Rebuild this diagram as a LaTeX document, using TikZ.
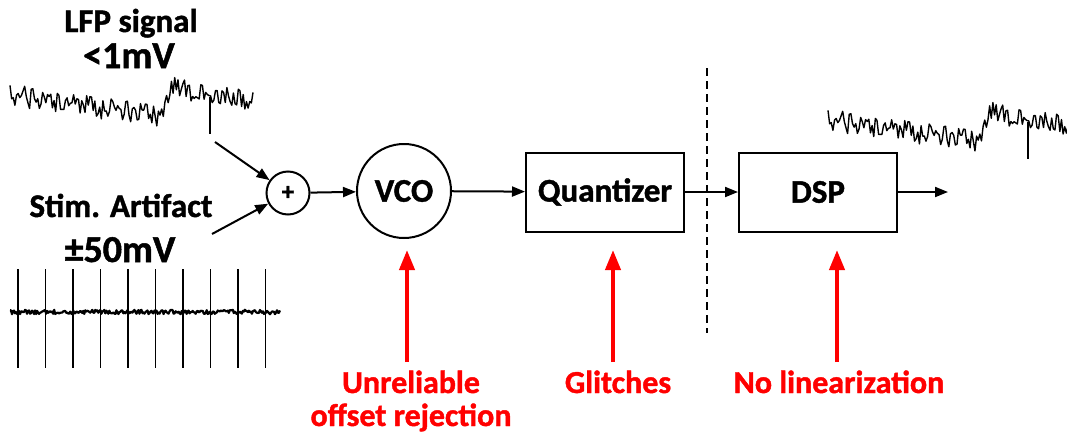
\documentclass[tikz,border=0pt]{standalone}
\usepackage{fontspec}
\setmainfont{Carlito}[BoldFont={Carlito Bold}, BoldFeatures={FakeBold=1.3}]
\usetikzlibrary{arrows.meta}
\definecolor{alarm}{RGB}{255,0,0}
\tikzset{
  px/.style={x=1pt,y=-1pt},
  blk/.style={draw, line width=2pt, minimum width=158pt, minimum height=79pt, inner sep=0pt,
    font=\bfseries\fontsize{33}{40}\selectfont},
  osc/.style={draw, circle, line width=2pt, minimum size=94pt, inner sep=0pt,
    font=\bfseries\fontsize{33}{40}\selectfont},
  adder/.style={draw, circle, line width=2pt, minimum size=43pt, inner sep=0pt,
    font=\bfseries\fontsize{25}{30}\selectfont},
  lbl/.style={inner sep=0pt, font=\bfseries\fontsize{33}{40}\selectfont},
  biglbl/.style={inner sep=0pt, font=\bfseries\fontsize{38}{46}\selectfont},
  note/.style={inner sep=0pt, text=alarm, align=center,
    font=\bfseries\fontsize{32}{33}\selectfont},
  arr/.style={line width=2pt, -{Triangle[length=13pt,width=10pt]}},
  warn/.style={line width=4pt, draw=alarm, -{Triangle[length=20pt,width=15pt]}},
  trace/.style={line width=1.4pt, line join=round},
}
% slow drift of the LFP with a step up, plus noise
\newcommand\lfpy[1]{((#1<162) ? (95+22*(#1-10)/152) : ((#1<172) ? (117-30*(#1-162)/10) : (87+13*(#1-172)/81))) + 11*rand}
\begin{document}
\begin{tikzpicture}[px]
\useasboundingbox (0,0) rectangle (1067,434);

% input signal labels
\node[lbl, anchor=base] (lfp) at (131,32) {LFP signal};
\node[biglbl, anchor=base] (lfpamp) at (129,68) {<1mV};
\node[lbl, anchor=base] (stim) at (121,217) {Stim. Artifact};
\node[biglbl, anchor=base] (stimamp) at (120,262) {±50mV};

% LFP waveform
\pgfmathsetseed{4711}
\draw[trace] plot[domain=10:253, samples=150] (\x,{\lfpy{\x}});
\draw[line width=1.4pt] (210,97) -- (210,134);

% stimulation artifact waveform
\pgfmathsetseed{99}
\draw[line width=2.2pt, line join=round] plot[domain=10:280, samples=270] (\x,{312+2.2*rand});
\foreach \i in {0,...,9}
  \draw[line width=1.3pt] ({18+27.5*\i},269) -- ({18+27.5*\i},368);

% processing chain
\node[adder] (sum) at (288,193) {+};
\node[osc] (vco) at (404,191) {VCO};
\node[blk] (quant) at (605,192) {Quantizer};
\node[blk] (dsp) at (818,192) {DSP};

\coordinate (lfpin) at (215,142);
\coordinate (stimin) at (212,234);
\coordinate (dspout) at (948,192);
\draw[arr] (lfpin) -- (sum);
\draw[arr] (stimin) -- (sum);
\draw[arr] (sum) -- (vco);
\draw[arr] (vco) -- (quant);
\draw[arr] (quant) -- (dsp);
\draw[arr] (dsp) -- (dspout);

% analog / digital boundary
\coordinate (cuttop) at (707,68);
\coordinate (cutbot) at (707,333);
\draw[line width=2pt, dash pattern=on 8pt off 5pt] (cuttop) -- (cutbot);

% recovered LFP at the output
\begin{scope}[shift={(818,25)}]
\pgfmathsetseed{4711}
\draw[trace] plot[domain=10:250, samples=148] (\x,{\lfpy{\x}});
\draw[line width=1.4pt] (210,97) -- (210,134);
\end{scope}

% problems at each stage
\coordinate (p1b) at (407,362); \coordinate (p1t) at (407,250);
\coordinate (p2b) at (613,362); \coordinate (p2t) at (613,250);
\coordinate (p3b) at (837,362); \coordinate (p3t) at (837,250);
\draw[warn] (p1b) -- (p1t);
\draw[warn] (p2b) -- (p2t);
\draw[warn] (p3b) -- (p3t);
\node[note, anchor=base] (offs) at (411,426) {Unreliable\\offset rejection};
\node[note, anchor=base] (glitch) at (618,393) {Glitches};
\node[note, anchor=base] (lin) at (839,393) {No linearization};
\end{tikzpicture}
\end{document}
